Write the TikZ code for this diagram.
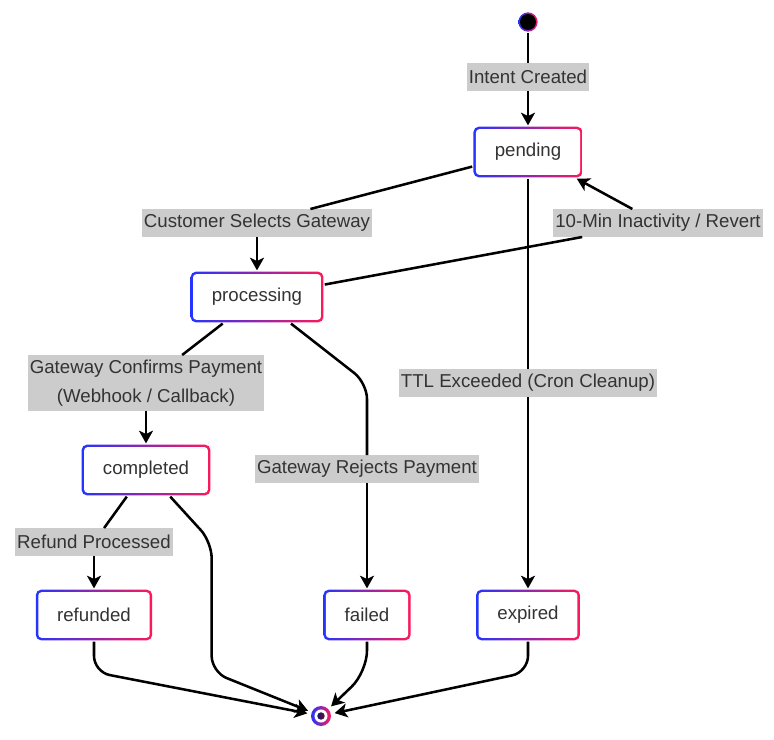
\documentclass[tikz,border=0pt]{standalone}
\usepackage{fontspec}
\setmainfont{Liberation Sans}
\usepackage{tikz}
\usetikzlibrary{arrows.meta, shapes, positioning, calc}

\definecolor{gradL}{RGB}{36,52,255}
\definecolor{gradR}{RGB}{255,24,88}
\definecolor{lblfill}{RGB}{204,204,204}
\definecolor{txtgray}{RGB}{51,51,51}

\begin{document}
\begin{tikzpicture}
            [>={Stealth[length=9.5pt,width=10.5pt,inset=2.5pt]}, auto, on grid, line width=1.9pt,
            font=\fontsize{14pt}{21.5pt}\selectfont,
            state/.style={rectangle, rounded corners=4pt, minimum height=38pt,
                inner xsep=16pt, inner ysep=0pt, text=txtgray,
                left color=gradL, right color=gradR,
                path picture={\fill[white, rounded corners=2.4pt]
                    ([shift={(1.9pt,1.9pt)}]path picture bounding box.south west) rectangle
                    ([shift={(-1.9pt,-1.9pt)}]path picture bounding box.north east);}},
            trigger/.style={rectangle, align=center, fill=lblfill, text=txtgray,
                inner xsep=1.5pt, inner ysep=0pt, outer sep=0pt, minimum height=21pt},
            startdot/.style={circle, inner sep=0pt, minimum size=14.5pt,
                left color=gradL, right color=gradR,
                path picture={\fill[black] (path picture bounding box.center) circle (6pt);}},
            enddot/.style={circle, inner sep=0pt, minimum size=15pt,
                left color=gradL, right color=gradR,
                path picture={\fill[white] (path picture bounding box.center) circle (4.9pt);
                    \shade[left color=gradL!45!black, right color=gradR!45!black]
                    (path picture bounding box.center) circle (2.8pt);}}]

            \node[startdot] (start) {};
            \useasboundingbox (-396pt,16.5pt) rectangle (184.5pt,-537.75pt);

            \node[trigger] (lblIntent) [below=41.25pt of start] {Intent Created};
            \node[state] (pending) [below=97.5pt of start] {pending};
            \node[trigger] (lblSelect) [below left=53.25pt and 203.25pt of pending] {Customer Selects Gateway};
            \node[state] (processing) [below=55.5pt of lblSelect] {processing};
            \node[trigger] (lblRevert) [below right=53.25pt and 97.5pt of pending] {10-Min Inactivity / Revert};
            \node[trigger, minimum height=42pt] (lblConfirm) [below left=64.5pt and 83.25pt of processing] {Gateway Confirms Payment\\(Webhook / Callback)};
            \node[state] (completed) [below=65.25pt of lblConfirm] {completed};
            \node[trigger] (lblRefund) [below left=54pt and 39pt of completed] {Refund Processed};
            \node[state] (refunded) [below=54.75pt of lblRefund] {refunded};
            \node[trigger] (lblTTL) [below=173.25pt of pending] {TTL Exceeded (Cron Cleanup)};
            \node[state] (expired) [below=174pt of lblTTL] {expired};
            \node[state] (failed) [left=120.75pt of expired] {failed};
            \node[trigger] (lblReject) [above=109.5pt of failed] {Gateway Rejects Payment};
            \node[enddot] (end) [below left=75.75pt and 34.5pt of failed] {};
            \coordinate[above=33pt of end] (merge);

            \draw (start) -- (lblIntent);
            \draw[->] (lblIntent) -- (pending);
            \draw (pending) -- (lblSelect);
            \draw[->] (lblSelect) -- (processing);
            \draw (processing) -- (lblRevert);
            \draw[->] (lblRevert) -- (pending);
            \draw (processing) -- (lblConfirm);
            \draw[->] (lblConfirm) -- (completed);
            \draw[rounded corners=12pt] (processing) -- (failed |- lblConfirm) -- (lblReject);
            \draw[->] (lblReject) -- (failed);
            \draw (pending) -- (lblTTL);
            \draw[->] (lblTTL) -- (expired);
            \draw (completed) -- (lblRefund);
            \draw[->] (lblRefund) -- (refunded);
            \draw[->, rounded corners=12pt, shorten >=2pt] (completed) -- (completed.east |- lblRefund) -- (completed.east |- merge) -- (end);
            \draw[->, rounded corners=12pt, shorten >=2pt] (refunded) -- (refunded |- merge) -- (end);
            \draw[->, rounded corners=16pt, shorten >=2pt] (failed) -- (failed |- merge) -- (end);
            \draw[->, rounded corners=12pt, shorten >=2pt] (expired) -- (expired |- merge) -- (end);

        \end{tikzpicture}
\end{document}
